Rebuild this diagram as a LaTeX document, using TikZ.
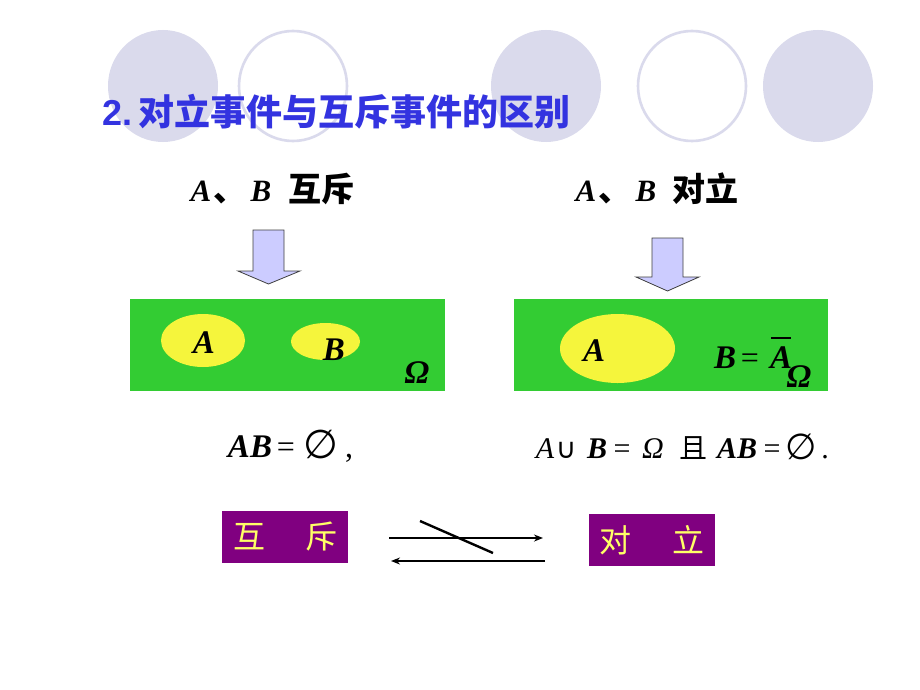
\documentclass[tikz,border=0pt]{standalone}
\usepackage{fontspec}
\setmainfont{Liberation Serif}
\newfontfamily\cjk{Noto Sans CJK SC}
\newfontfamily\arialf{Liberation Sans}
\newfontfamily\symf{DejaVu Sans}
\usetikzlibrary{arrows.meta}
\definecolor{ring}{HTML}{DADAEC}
\definecolor{titleblue}{HTML}{3333E0}
\definecolor{arrowfill}{HTML}{CCCCFF}
\definecolor{boxgreen}{HTML}{33CC33}
\definecolor{setyellow}{HTML}{F5F53C}
\definecolor{purplebox}{HTML}{800080}
\definecolor{ytext}{HTML}{FFFF66}
\tikzset{
  ringfill/.style={fill=ring},
  ringline/.style={draw=ring, line width=2.6pt},
  blockarrow/.style={fill=arrowfill, draw=black!75, line width=0.8pt},
  universe/.style={fill=boxgreen, draw=none, inner sep=0, minimum height=92pt},
  setA/.style={fill=setyellow, draw=none},
  glyph/.style={inner sep=0, anchor=base},
  lbl/.style={glyph, font=\fontsize{33}{36}\selectfont\bfseries\itshape},
  head/.style={glyph, font=\fontsize{31}{36}\selectfont\bfseries\itshape},
  headcjk/.style={glyph, font=\fontsize{33}{36}\selectfont\cjk\bfseries},
  fml/.style={glyph, font=\fontsize{32}{36}\selectfont},
  purple/.style={fill=purplebox, draw=none, minimum width=126pt, minimum height=52pt, inner sep=0, text=ytext, font=\fontsize{32}{36}\selectfont\cjk},
  relarrow/.style={line width=2.2pt, -{Stealth[length=9pt,width=7pt]}}
}
\begin{document}
\begin{tikzpicture}[x=1pt,y=-1pt]
\useasboundingbox[fill=white] (0,0) rectangle (920,690);
% decorative circles
\fill[ringfill] (163,86) ellipse [x radius=55, y radius=56];
\draw[ringline] (293,86) ellipse [x radius=54, y radius=55];
\fill[ringfill] (546,86) ellipse [x radius=55, y radius=56];
\draw[ringline] (692,86) ellipse [x radius=54, y radius=55];
\fill[ringfill] (818,86) ellipse [x radius=55, y radius=56];
% title
\node[anchor=west, inner sep=0, text=titleblue, font=\fontsize{36}{40}\selectfont\bfseries] (title) at (102,112) {{\arialf 2.}\,{\cjk 对立事件与互斥事件的区别}};
% headings (left)
\node[head] (hla) at (201,201) {A};
\node[headcjk] (hlc) at (229.5,201) {、};
\node[head] (hlb) at (261,201) {B};
\node[headcjk] (hlt) at (321,201) {互斥};
% headings (right)
\node[head] (hra) at (586,201) {A};
\node[headcjk] (hrc) at (614.5,201) {、};
\node[head] (hrb) at (646,201) {B};
\node[headcjk] (hrt) at (705,201) {对立};
% block arrows
\draw[blockarrow] (253,230) -- (284,230) -- (284,271) -- (300,271) -- (268.5,284) -- (238,271) -- (253,271) -- cycle;
\draw[blockarrow] (652,238) -- (683,238) -- (683,277) -- (699,277) -- (667.5,291) -- (636,277) -- (652,277) -- cycle;
% universes
\node[universe, minimum width=315pt] (ul) at (287.5,345) {};
\node[universe, minimum width=314pt] (ur) at (671,345) {};
\fill[setA] (203,340.5) ellipse [x radius=42, y radius=26.5];
\fill[setA] (325.5,341.5) ellipse [x radius=34.5, y radius=18.5];
\fill[setA] (617.5,348.5) ellipse [x radius=57.5, y radius=34.5];
\node[lbl] (la) at (204,353) {A};
\node[lbl] (lb) at (334,360) {B};
\node[lbl] (lo) at (417,383) {Ω};
\node[lbl] (ra) at (594,361) {A};
\node[lbl] (rb) at (725,368) {B};
\node[fml] (req) at (750,368) {=};
\node[lbl] (rabar) at (781,368) {A};
\draw[line width=1.3pt] (771,338) -- (791,338);
\node[lbl] (ro) at (799,387) {Ω};
% formula left
\node[glyph, font=\fontsize{33}{36}\selectfont\bfseries\itshape] (f1) at (250,457) {AB};
\node[fml] (f2) at (286,457) {=};
\node[glyph, font=\fontsize{40}{44}\selectfont\symf] (f3) at (321,458) {∅};
\node[fml] (f4) at (349,457) {,};
% formula right
\node[fml, font=\fontsize{30}{36}\selectfont\itshape] (g1) at (545,458) {A};
\node[glyph, font=\fontsize{28}{36}\selectfont\symf] (g2) at (566,458) {∪};
\node[fml, font=\fontsize{30}{36}\selectfont\bfseries\itshape] (g3) at (597,458) {B};
\node[fml, font=\fontsize{30}{36}\selectfont] (g4) at (622,458) {=};
\node[fml, font=\fontsize{30}{36}\selectfont\itshape] (g5) at (653,458) {Ω};
\node[glyph, font=\fontsize{28}{36}\selectfont\cjk] (g6) at (693,458) {且};
\node[fml, font=\fontsize{30}{36}\selectfont\bfseries\itshape] (g7) at (737,458) {AB};
\node[fml, font=\fontsize{30}{36}\selectfont] (g8) at (772,458) {=};
\node[glyph, font=\fontsize{36}{40}\selectfont\symf] (g9) at (801,459) {∅};
\node[fml, font=\fontsize{30}{36}\selectfont] (g10) at (825,458) {.};
% bottom boxes
\node[purple] (mutex) at (285,537) {互\hspace{40pt}斥};
\node[purple] (oppo) at (652,540) {对\hspace{42pt}立};
\coordinate (t1) at (389,538);
\coordinate (t2) at (543,538);
\coordinate (b1) at (545,561);
\coordinate (b2) at (391,561);
\draw[relarrow] (t1) -- (t2);
\draw[relarrow] (b1) -- (b2);
\coordinate (s1) at (420,521);
\coordinate (s2) at (493,553);
\draw[line width=2.4pt] (s1) -- (s2);
\end{tikzpicture}
\end{document}
